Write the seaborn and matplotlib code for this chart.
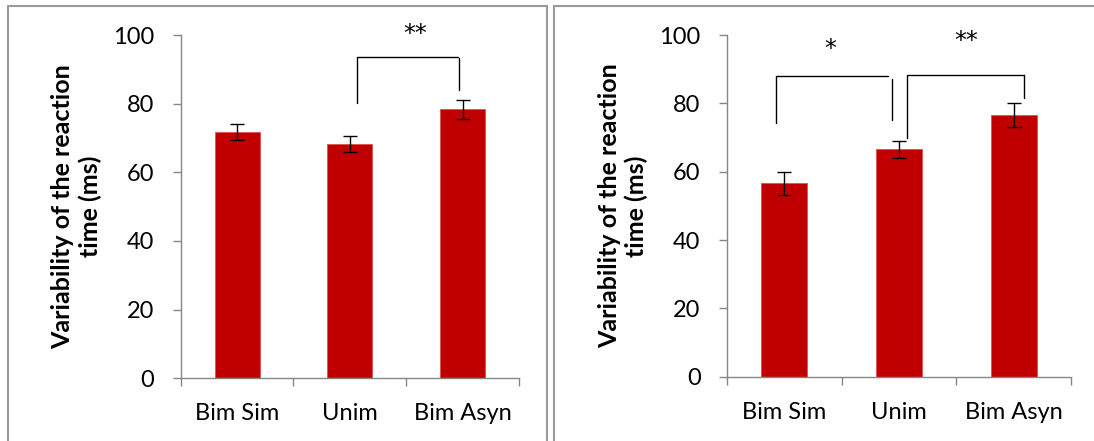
import matplotlib
matplotlib.use("Agg")
import matplotlib.pyplot as plt
from matplotlib.patches import Rectangle
import seaborn as sns
import pandas as pd

categories = ["Bim Sim", "Unim", "Bim Asyn"]
left_values = [71.8, 68.3, 78.3]
left_errors = [2.3, 2.4, 2.9]
right_values = [56.6, 66.6, 76.6]
right_errors = [3.3, 2.5, 3.5]
y_ticks = [0, 20, 40, 60, 80, 100]
y_label = "Variability of the reaction\ntime (ms)"

# significance brackets
left_brackets = [
    dict(xl=1.06, yl=80.2, xr=1.97, yr=84.0, yt=93.6, xr_top=1.96, gap=0.4,
         label="**", xt=1.58, yt_text=100.2),
]
right_brackets = [
    dict(xl=-0.07, yl=74.3, xr=0.935, yr=75.1, yt=88.0, xr_top=0.90, gap=0.9,
         label="*", xt=0.40, yt_text=96.0),
    dict(xl=1.07, yl=69.9, xr=2.09, yr=81.6, yt=88.3, xr_top=2.09, gap=0.0,
         label="**", xt=1.59, yt_text=98.3),
]

sns.set_theme(style="white")
plt.rcParams["font.family"] = ["Lato", "DejaVu Sans"]

BAR = "#C00000"
GRAY = "#868686"

fig = plt.figure(figsize=(10.94, 4.41), dpi=100)
ax1 = fig.add_axes([180.7 / 1094, 1 - 378.3 / 441, 338.3 / 1094, 343.3 / 441])
ax2 = fig.add_axes([727 / 1094, 1 - 376.7 / 441, 344 / 1094, 341.7 / 441])


def draw(ax, values, errors, brackets, lab_x):
    df = pd.DataFrame({"cond": categories, "val": values})
    sns.barplot(data=df, x="cond", y="val", color=BAR, width=0.4,
                edgecolor="#E05050", linewidth=0.6, saturation=1, ax=ax)
    ax.errorbar(range(len(categories)), values, yerr=errors, fmt="none",
                ecolor="black", elinewidth=1.0, capsize=5, capthick=1.0)
    ax.set_xlim(-0.5, 2.5)
    ax.set_ylim(0, 100)
    ax.set_yticks(y_ticks)
    ax.set_yticklabels([str(t) for t in y_ticks], fontsize=17, color="black")
    ax.set_xticks([-0.5, 0.5, 1.5, 2.5])
    ax.set_xticklabels([])
    ax.set_xticks(range(len(categories)), minor=True)
    ax.set_xticklabels(categories, minor=True, fontsize=17, color="black")
    ax.tick_params(axis="x", which="major", direction="out", length=6, width=1, color=GRAY, bottom=True)
    ax.tick_params(axis="x", which="minor", length=0, pad=18, bottom=True)
    ax.tick_params(axis="y", direction="out", length=6, width=1, color=GRAY, pad=13, left=True)
    for s in ["top", "right"]:
        ax.spines[s].set_visible(False)
    for s in ["left", "bottom"]:
        ax.spines[s].set_color(GRAY)
        ax.spines[s].set_linewidth(1.0)
    ax.set_xlabel("")
    ax.set_ylabel(y_label, fontsize=18, fontweight="bold", color="black",
                  va="center", linespacing=1.2)
    ax.yaxis.set_label_coords(lab_x, 0.5)
    for b in brackets:
        ax.plot([b["xl"], b["xl"], b["xr_top"]], [b["yl"], b["yt"], b["yt"]],
                color="black", lw=1.0, clip_on=False)
        ax.plot([b["xr"], b["xr"]], [b["yt"] - b["gap"], b["yr"]],
                color="black", lw=1.0, clip_on=False)
        ax.text(b["xt"], b["yt_text"], b["label"], ha="center", va="center",
                fontsize=17, color="black", clip_on=False, family="DejaVu Sans")


draw(ax1, left_values, left_errors, left_brackets, -104 / 338.3)
draw(ax2, right_values, right_errors, right_brackets, -104 / 344)

# panel frames
fig.add_artist(Rectangle((8 / 1094, -0.1), (547 - 8) / 1094, 1.1 - 6 / 441,
                         transform=fig.transFigure, fill=False, edgecolor="#9A9A9A", lw=1.5))
fig.add_artist(Rectangle((554 / 1094, -0.1), 0.6, 1.1 - 6 / 441,
                         transform=fig.transFigure, fill=False, edgecolor="#9A9A9A", lw=1.5))

fig.savefig("out.png", dpi=100)
